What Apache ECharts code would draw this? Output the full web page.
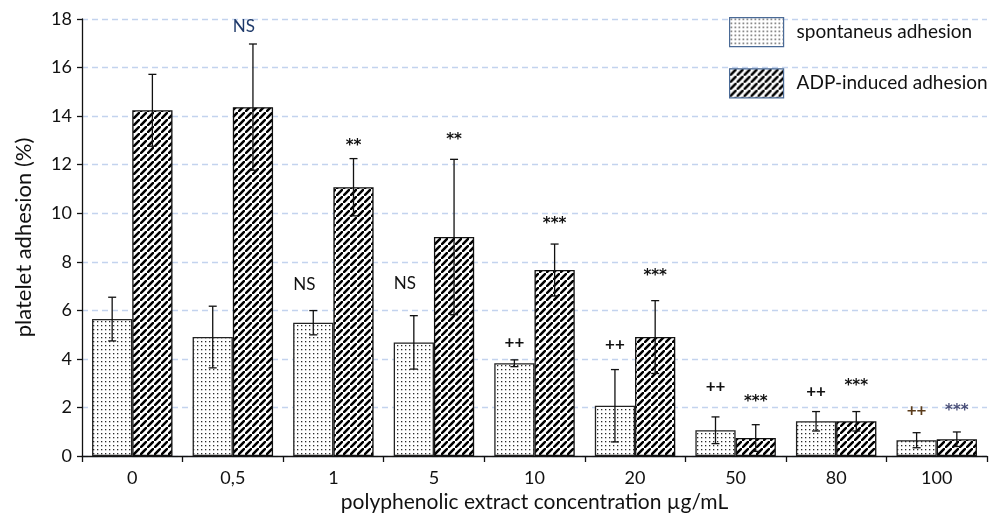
<!DOCTYPE html>
<html>
<head>
<meta charset="utf-8">
<script src="https://cdn.jsdelivr.net/npm/echarts@6/dist/echarts.min.js"></script>
<style>
html,body{margin:0;padding:0;background:#fff;}
#chart{width:990px;height:518px;}
</style>
</head>
<body>
<div id="chart"></div>
<script>
// ---- data ----
const categories = ['0', '0,5', '1', '5', '10', '20', '50', '80', '100'];
const spontaneous = [5.64, 4.90, 5.49, 4.68, 3.82, 2.07, 1.06, 1.43, 0.65];
const spontaneousErr = [0.90, 1.27, 0.50, 1.10, 0.14, 1.49, 0.55, 0.40, 0.31];
const adpInduced = [14.24, 14.37, 11.07, 9.02, 7.66, 4.90, 0.74, 1.43, 0.69];
const adpInducedErr = [1.48, 2.60, 1.18, 3.20, 1.07, 1.50, 0.55, 0.40, 0.30];
const spontMarks = ['', '', 'NS', 'NS', '++', '++', '++', '++', '++'];
const spontMarkY = [null, null, 7.05, 7.10, 4.67, 4.60, 2.85, 2.65, 1.89];
const adpMarks = ['', 'NS', '**', '**', '***', '***', '***', '***', '***'];
const adpMarkY = [null, 17.7, 12.94, 13.18, 9.72, 7.59, 2.39, 3.05, 2.03];
const yTicks = [0, 2, 4, 6, 8, 10, 12, 14, 16, 18];

// ---- patterns ----
function hatchPattern() {
  const s = 7;
  const c = document.createElement('canvas');
  c.width = s; c.height = s;
  const g = c.getContext('2d');
  g.fillStyle = '#fff'; g.fillRect(0, 0, s, s);
  g.strokeStyle = '#000'; g.lineWidth = 2.6;
  g.beginPath();
  g.moveTo(-1, s + 1); g.lineTo(s + 1, -1);
  g.moveTo(-s - 1, 1); g.lineTo(1, -s - 1);
  g.moveTo(s - 1, 2 * s + 1); g.lineTo(2 * s + 1, s - 1);
  g.stroke();
  return c;
}
function dotPattern() {
  const c = document.createElement('canvas');
  c.width = 4; c.height = 4;
  const g = c.getContext('2d');
  g.fillStyle = '#fff'; g.fillRect(0, 0, 4, 4);
  g.fillStyle = '#2a2a2a'; g.fillRect(1, 1, 1.3, 1.3);
  return c;
}

const FONT = 'Lato, "Open Sans", sans-serif';

function errorSeries(vals, errs, side) {
  return {
    type: 'custom',
    silent: true,
    z: 5,
    encode: { x: 0, y: 1 },
    data: vals.map((v, i) => [i, v, errs[i]]),
    renderItem: function (params, api) {
      const i = api.value(0), v = api.value(1), e = api.value(2);
      const hi = api.coord([i, v + e]);
      const lo = api.coord([i, v - e]);
      const bw = api.size([1, 0])[0];
      const cx = hi[0] + side * bw * 0.2;
      const cap = 4;
      const st = { stroke: '#111', lineWidth: 1.3 };
      return {
        type: 'group',
        children: [
          { type: 'line', shape: { x1: cx, y1: hi[1], x2: cx, y2: lo[1] }, style: st },
          { type: 'line', shape: { x1: cx - cap, y1: hi[1], x2: cx + cap, y2: hi[1] }, style: st },
          { type: 'line', shape: { x1: cx - cap, y1: lo[1], x2: cx + cap, y2: lo[1] }, style: st }
        ]
      };
    }
  };
}

function markSeries(marks, ys, side, colors) {
  const data = [];
  marks.forEach((m, i) => { if (m) data.push([i, ys[i], m]); });
  return {
    type: 'custom',
    silent: true,
    z: 6,
    encode: { x: 0, y: 1 },
    data: data,
    renderItem: function (params, api) {
      const i = api.value(0), y = api.value(1);
      const txt = marks[i];
      const p = api.coord([i, y]);
      const bw = api.size([1, 0])[0];
      const isNS = txt === 'NS';
      const isStar = txt.charAt(0) === '*';
      const cx = p[0] + side * bw * 0.2 - (isNS ? 9 : 0);
      let font;
      if (isNS) font = 'normal 17px ' + FONT;
      else if (isStar) font = 'bold 15px "DejaVu Sans", sans-serif';
      else font = 'bold 17px ' + FONT;
      return {
        type: 'text',
        style: {
          x: cx, y: p[1] + (isStar ? 4 : 0),
          text: txt,
          textAlign: 'center',
          textVerticalAlign: 'middle',
          fill: (colors && colors[i]) || '#111',
          font: font
        }
      };
    }
  };
}

const chart = echarts.init(document.getElementById('chart'));
chart.setOption({
  animation: false,
  backgroundColor: '#fff',
  grid: { left: 82, right: 3, top: 19, bottom: 62, containLabel: false },
  legend: {
    orient: 'vertical',
    left: 729, top: 17,
    icon: 'rect',
    itemWidth: 54, itemHeight: 29, itemGap: 21,
    padding: 0,
    data: ['spontaneus adhesion', 'ADP-induced adhesion'],
    itemStyle: { borderColor: '#4a6a96', borderWidth: 1.2 },
    textStyle: { fontFamily: FONT, fontSize: 19, color: '#111', padding: [0, 0, 0, 8] }
  },
  xAxis: {
    type: 'category',
    data: categories,
    name: 'polyphenolic extract concentration µg/mL',
    nameLocation: 'middle',
    nameGap: 28,
    nameTextStyle: { fontFamily: FONT, fontSize: 21, color: '#111' },
    axisLine: { lineStyle: { color: '#111', width: 1.3 } },
    axisTick: { show: true, length: 6, lineStyle: { color: '#111', width: 1.3 } },
    axisLabel: { fontFamily: FONT, fontSize: 18, color: '#111', margin: 13 }
  },
  yAxis: {
    type: 'value',
    min: yTicks[0], max: yTicks[yTicks.length - 1], interval: 2,
    name: 'platelet adhesion (%)',
    nameLocation: 'middle',
    nameGap: 47,
    nameTextStyle: { fontFamily: FONT, fontSize: 22, color: '#111' },
    axisLine: { show: true, lineStyle: { color: '#111', width: 1.3 } },
    axisTick: { show: true, length: 5, lineStyle: { color: '#111', width: 1.3 } },
    axisLabel: { fontFamily: FONT, fontSize: 18, color: '#111', margin: 10 },
    splitLine: { show: true, lineStyle: { color: '#c3d3ee', width: 1.3, type: [6, 4] } }
  },
  series: [
    {
      name: 'spontaneus adhesion', type: 'bar', data: spontaneous,
      barWidth: '40%', barGap: '0%',
      itemStyle: { color: { image: dotPattern(), repeat: 'repeat' }, borderColor: '#222', borderWidth: 1.3 }
    },
    {
      name: 'ADP-induced adhesion', type: 'bar', data: adpInduced,
      barWidth: '40%', barGap: '0%',
      itemStyle: { color: { image: hatchPattern(), repeat: 'repeat' }, borderColor: '#111', borderWidth: 1.3 }
    },
    errorSeries(spontaneous, spontaneousErr, -1),
    errorSeries(adpInduced, adpInducedErr, 1),
    markSeries(spontMarks, spontMarkY, -1, [null, null, null, null, null, null, null, null, '#5a3b1a']),
    markSeries(adpMarks, adpMarkY, 1, [null, '#1f3a6a', null, null, null, null, null, null, '#4a4f78'])
  ]
});
</script>
</body>
</html>
